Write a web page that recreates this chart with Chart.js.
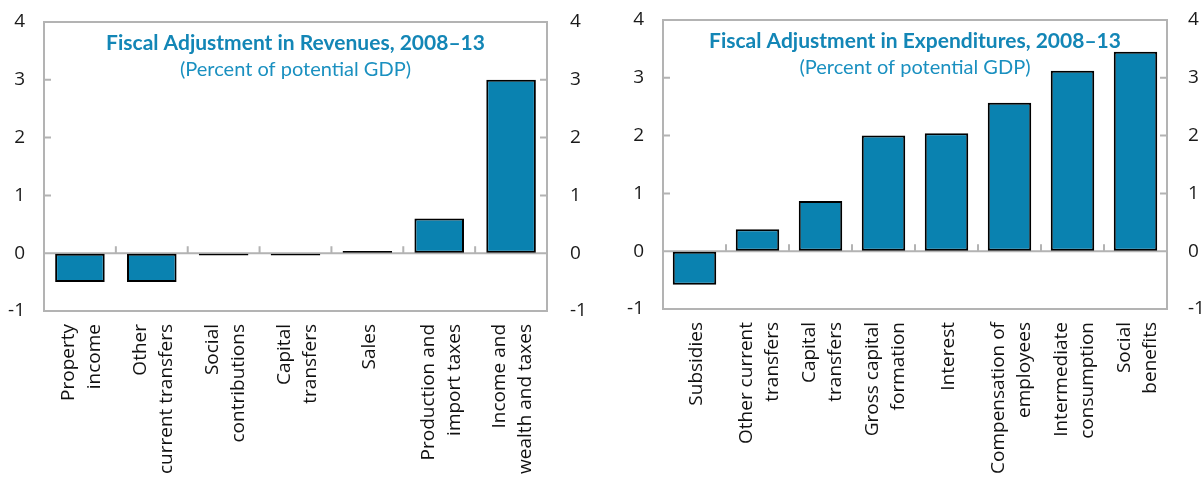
<!DOCTYPE html>
<html>
<head>
  <title>Fiscal Adjustment, 2008-13</title>
  <script src="https://cdn.jsdelivr.net/npm/chart.js"></script>
  <style>
    body { margin: 0; background: #fff; overflow: hidden; width: 1204px; height: 479px; position: relative; }
    .chart-box { position: absolute; top: 0; height: 479px; }
  </style>
</head>
<body>
  <div class="chart-box" style="left:0; width:620px;"><canvas id="revChart"></canvas></div>
  <div class="chart-box" style="left:600px; width:640px;"><canvas id="expChart"></canvas></div>

  <script>
    // revenues panel
    const revCategories = [["Property", "income"], ["Other", "current transfers"], ["Social", "contributions"],
      ["Capital", "transfers"], ["Sales"], ["Production and", "import taxes"], ["Income and", "wealth and taxes"]];
    const revValues = [-0.5, -0.5, -0.04, -0.04, 0.04, 0.6, 3.0];

    // expenditures panel
    const expCategories = [["Subsidies"], ["Other current", "transfers"], ["Capital", "transfers"],
      ["Gross capital", "formation"], ["Interest"], ["Compensation of", "employees"],
      ["Intermediate", "consumption"], ["Social", "benefits"]];
    const expValues = [-0.58, 0.38, 0.87, 2.0, 2.04, 2.57, 3.12, 3.45];

    const yTicks = [-1, 0, 1, 2, 3, 4];

    const barColor = "#0a82b0";
    const titleColor = "#1386b6";
    const subColor = "#1a90c0";
    const frameColor = "#b3b3b3";

    // plot frame, zero line and the little inner ticks
    const framePlugin = {
      id: "frame",
      beforeDatasetsDraw(chart) {
        const { ctx, chartArea: a } = chart;
        const x = chart.scales.x, y = chart.scales.y;
        ctx.save();
        ctx.strokeStyle = frameColor;
        ctx.lineWidth = 2;
        ctx.strokeRect(a.left, a.top, a.right - a.left, a.bottom - a.top);
        const y0 = y.getPixelForValue(0);
        ctx.beginPath();
        ctx.moveTo(a.left, y0);
        ctx.lineTo(a.right, y0);
        for (let i = 1; i < chart.data.labels.length; i++) {
          const bx = (x.getPixelForValue(i - 1) + x.getPixelForValue(i)) / 2;
          ctx.moveTo(bx, y0);
          ctx.lineTo(bx, y0 - 7);
        }
        yTicks.forEach((v) => {
          if (v > 0 && v < yTicks[yTicks.length - 1]) {
            const py = y.getPixelForValue(v);
            ctx.moveTo(a.left, py);
            ctx.lineTo(a.left + 7, py);
            ctx.moveTo(a.right, py);
            ctx.lineTo(a.right - 7, py);
          }
        });
        ctx.stroke();
        ctx.restore();
      },
    };

    // title inside the plot area
    const panelTitlePlugin = {
      id: "panelTitle",
      afterDraw(chart, args, opts) {
        const { ctx, chartArea: a } = chart;
        const cx = (a.left + a.right) / 2;
        ctx.save();
        ctx.textAlign = "center";
        ctx.textBaseline = "middle";
        ctx.fillStyle = titleColor;
        ctx.font = "bold 21px Lato";
        ctx.fillText(opts.text, cx, a.top + 21);
        ctx.fillStyle = subColor;
        ctx.font = "20px Lato";
        ctx.fillText(opts.sub, cx, a.top + 48);
        ctx.restore();
      },
    };

    // vertical category labels, lines centred on the category
    const xLabelPlugin = {
      id: "xLabels",
      afterDraw(chart) {
        const { ctx, chartArea: a } = chart;
        const x = chart.scales.x;
        const lh = 26;
        ctx.save();
        ctx.fillStyle = "#111";
        ctx.font = "19px 'Open Sans'";
        ctx.textAlign = "right";
        ctx.textBaseline = "middle";
        chart.data.labels.forEach((lines, i) => {
          const px = x.getPixelForValue(i) + 2;
          lines.forEach((line, k) => {
            const cx = px + (k - (lines.length - 1) / 2) * lh;
            ctx.save();
            ctx.translate(cx, a.bottom + 13);
            ctx.rotate(-Math.PI / 2);
            ctx.fillText(line, 0, 0);
            ctx.restore();
          });
        });
        ctx.restore();
      },
    };

    function makeChart(id, labels, values, cfg) {
      // the gap to the labels is an invisible tick mark, so it does not push the plot down
      const yAxis = (position, width, gap) => ({
        type: "linear",
        position: position,
        min: yTicks[0],
        max: yTicks[yTicks.length - 1],
        afterBuildTicks: (s) => { s.ticks = yTicks.map((v) => ({ value: v })); },
        afterFit: (s) => { s.width = width; },
        grid: { display: true, drawOnChartArea: false, drawTicks: true, tickLength: gap, tickColor: "rgba(0,0,0,0)" },
        border: { display: false },
        ticks: { padding: 0, color: "#1a1a1a", font: { family: "'Open Sans'", size: 19 } },
      });
      return new Chart(id, {
        type: "bar",
        data: {
          labels: labels,
          datasets: [{
            data: values,
            backgroundColor: barColor,
            borderColor: "#000",
            borderWidth: 2,
            borderSkipped: false,
            barPercentage: 0.69,
            categoryPercentage: 1,
          }],
        },
        options: {
          responsive: true,
          maintainAspectRatio: false,
          animation: false,
          layout: { padding: { top: cfg.top, left: 0, right: 0, bottom: 0 } },
          scales: {
            x: {
              afterFit: (s) => { s.height = cfg.xHeight; },
              grid: { display: false, drawTicks: false },
              border: { display: false },
              ticks: { display: false },
            },
            y: yAxis("left", cfg.leftW, cfg.leftPad),
            y2: yAxis("right", cfg.rightW, cfg.rightPad),
          },
          plugins: {
            legend: { display: false },
            tooltip: { enabled: false },
            panelTitle: { text: cfg.title, sub: "(Percent of potential GDP)" },
          },
        },
        plugins: [framePlugin, panelTitlePlugin, xLabelPlugin],
      });
    }

    makeChart("revChart", revCategories, revValues, {
      top: 22, xHeight: 168, leftW: 44, rightW: 73, leftPad: 19, rightPad: 23,
      title: "Fiscal Adjustment in Revenues, 2008–13",
    });
    makeChart("expChart", expCategories, expValues, {
      top: 20, xHeight: 170, leftW: 63, rightW: 73, leftPad: 19, rightPad: 21,
      title: "Fiscal Adjustment in Expenditures, 2008–13",
    });
  </script>
</body>
</html>
